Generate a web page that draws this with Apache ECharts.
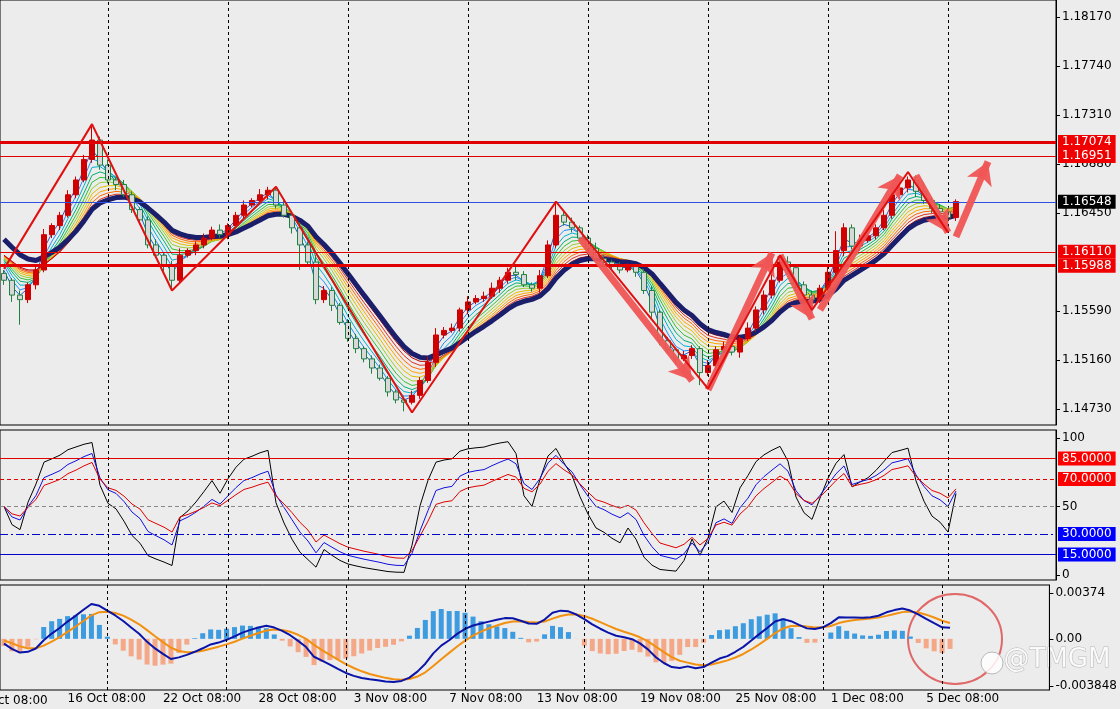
<!DOCTYPE html>
<html><head><meta charset="utf-8">
<script src="https://cdn.jsdelivr.net/npm/echarts@6/dist/echarts.min.js"></script>
<style>html,body{margin:0;padding:0;background:#ececec}#c{width:1120px;height:709px}</style>
</head><body><div id="c"></div>
<script>
const closes=[1.1586,1.1573,1.1569,1.1582,1.1595,1.1626,1.1634,1.1643,1.1661,1.1674,1.1692,1.1709,1.1687,1.1674,1.1670,1.1661,1.1648,1.1639,1.1617,1.1608,1.1599,1.1586,1.1608,1.1612,1.1617,1.1623,1.1630,1.1626,1.1634,1.1643,1.1652,1.1656,1.1661,1.1665,1.1652,1.1643,1.1632,1.1617,1.1602,1.1569,1.1577,1.1564,1.1549,1.1535,1.1526,1.1517,1.1509,1.1500,1.1488,1.1481,1.1479,1.1485,1.1498,1.1514,1.1538,1.1542,1.1544,1.1560,1.1567,1.1570,1.1572,1.1579,1.1586,1.1593,1.1591,1.1582,1.1579,1.1590,1.1617,1.1643,1.1637,1.1632,1.1623,1.1614,1.1605,1.1602,1.1598,1.1595,1.1598,1.1593,1.1577,1.1558,1.1533,1.1525,1.1517,1.1520,1.1526,1.1505,1.1511,1.1525,1.1528,1.1523,1.1535,1.1544,1.1560,1.1573,1.1586,1.1602,1.1597,1.1582,1.1573,1.1569,1.1579,1.1593,1.1612,1.1632,1.1616,1.1621,1.1625,1.1632,1.1643,1.1661,1.1667,1.1674,1.1664,1.1656,1.1649,1.1646,1.1641,1.1655];
const firstOpen=1.1592;
const wickUp=[3,2,4,2,3,5,2,3,4,3,4,13,3,5,2,4,3,2,3,5,2,4,6,2,3,4,3,5,2,3,4,2,5,3,2,4,3,5,3,6,4,3,2,3,4,2,3,3,2,2,3,4,3,5,6,3,4,2,5,3,4,5,3,4,6,3,2,5,4,11,3,4,2,3,5,3,2,4,3,2,3,4,2,3,2,4,3,2,5,3,4,3,2,5,3,4,6,3,5,2,3,4,3,5,17,4,3,5,2,3,5,6,7,3,4,8,3,4,3,2];
const wickDn=[4,6,22,3,4,2,3,4,2,3,2,3,4,3,5,2,3,4,3,2,5,9,3,2,4,3,2,3,4,2,3,2,3,4,3,2,5,22,3,4,3,5,2,3,4,3,5,2,4,3,8,2,3,2,4,3,2,3,4,2,3,2,4,3,5,2,3,4,2,3,3,4,2,5,3,2,4,3,2,4,3,5,4,3,5,2,3,11,3,4,2,3,5,2,3,4,3,2,5,4,3,6,3,2,3,5,3,4,2,3,2,3,3,4,5,3,4,3,6,3];
const tickDates=[[8,'16 Oct 08:00'],[20,'22 Oct 08:00'],[32,'28 Oct 08:00'],[44,'3 Nov 08:00'],[56,'7 Nov 08:00'],[67,'13 Nov 08:00'],[80,'19 Nov 08:00'],[92,'25 Nov 08:00'],[104,'1 Dec 08:00'],[116,'5 Dec 08:00']];
const vLines=[13,28,43,58,73,88,103,118];
const priceShownTicks=[1.14730,1.15160,1.15590,1.16450,1.16880,1.17310,1.17740,1.18170];
const levels=[[1.17074,3,'#e00000'],[1.16951,1,'#e00000'],[1.16110,1,'#e00000'],[1.15988,3,'#e00000']];
const current=1.16548;
const zigzag=[[0,1.1596],[11,1.1723],[21,1.1577],[34,1.1668],[51,1.1470],[69,1.1655],[88,1.1491],[97,1.1608],[101,1.1560],[113,1.1681],[118,1.1628]];
const arrows=[[[72,1.1623],[86,1.1498]],[[88,1.1490],[96,1.1610]],[[97,1.1608],[101,1.1552]],[[102,1.1560],[112,1.1678]],[[114,1.1678],[118,1.1628]],[[119,1.1624],[123,1.1690]]];
const ribbonPeriods=[2,3,4,5,6,7,8,9,10,11,12];
const ribbonColors=['#1f5fd0','#1e90ff','#00b0d0','#00b070','#30c030','#9acd32','#e0c000','#ffa500','#ff6a00','#e03020','#c00000'];
const thickPeriod=13;
const rsiLevels=[[85,'#e00000','solid','#ff0000'],[70,'#e00000','dashed','#ff0000'],[50,'#888','dashed',null],[30,'#0000cc','dashdot','#0000ff'],[15,'#0000cc','solid','#0000ff']];
const macdTicks=[-0.003848,0,0.00374];

const N=132;
const cats=[];for(let i=0;i<N;i++)cats.push('');
tickDates.forEach(([i,t])=>cats[i]=t);
const ohlc=closes.map((c,i)=>{const o=i?closes[i-1]:firstOpen;const hi=Math.max(o,c)+(wickUp[i]||3)*0.0001;const lo=Math.min(o,c)-(wickDn[i]||3)*0.0001;return [o,c,lo,hi];});
function ema(arr,p,seed){const k=2/(p+1);let e=seed??arr[0];return arr.map(v=>{e=v*k+e*(1-k);return +e.toFixed(6);});}
function rsi(arr,p){let ag=0.0006,al=0.0006;return arr.map((v,i)=>{if(i===0)return 50;const d=v-arr[i-1];ag=(ag*(p-1)+Math.max(d,0))/p;al=(al*(p-1)+Math.max(-d,0))/p;return +(100*ag/(ag+al)).toFixed(2);});}
const seed=1.1612;
const eF=ema(closes,6,seed),eS=ema(closes,14,seed);
const macd=closes.map((c,i)=>+(eF[i]-eS[i]).toFixed(6));
const sig=ema(macd,5,0);
const hist=macd.map((m,i)=>+((m-sig[i])*2.2).toFixed(6));

const vLineData=vLines.map(v=>({xAxis:v,lineStyle:{color:'#000',type:[3,3],width:1},label:{show:false}}));
const lab=(txt,bg)=>({show:true,position:'end',formatter:txt,color:'#fff',backgroundColor:bg,padding:[1,4],fontSize:12,fontFamily:'DejaVu Sans',distance:2});
const series=[];
ribbonPeriods.forEach((p,k)=>series.push({type:'line',xAxisIndex:0,yAxisIndex:0,data:ema(closes,p,seed),symbol:'none',lineStyle:{width:1,color:ribbonColors[k]},z:2}));
series.push({type:'line',data:ema(closes,thickPeriod,1.1628),symbol:'none',lineStyle:{width:5,color:'#1b1f6b'},z:3,
 markLine:{silent:true,symbol:'none',precision:6,data:[
  ...vLineData,
  ...levels.map(([v,w,c])=>({yAxis:v,lineStyle:{color:c,width:w,type:'solid'},label:lab(v.toFixed(5),'#f00000')})),
  {yAxis:current,lineStyle:{color:'#3050e0',width:1,type:'solid'},label:lab(current.toFixed(5),'#000')}
 ]}});
series.push({type:'candlestick',data:ohlc,barWidth:5,z:4,itemStyle:{color:'#d00000',color0:'#d8d8d8',borderColor:'#d00000',borderColor0:'#208040',borderWidth:1}});
series.push({type:'line',data:zigzag,symbol:'none',lineStyle:{color:'#e01010',width:2},z:5});
series.push({type:'line',data:zigzag,symbol:'none',lineStyle:{opacity:0},z:6,markLine:{silent:true,precision:6,symbol:['none','arrow'],symbolSize:[20,22],lineStyle:{color:'#f05555',width:7,type:'solid',opacity:0.95},label:{show:false},data:arrows.map(([a,b])=>[{coord:a},{coord:b}])}});
const rsiCols=[['#000',4],['#1010e0',7],['#e00000',10]];
rsiCols.forEach(([c,p],k)=>series.push({type:'line',xAxisIndex:1,yAxisIndex:1,data:rsi(closes,p),symbol:'none',lineStyle:{width:1,color:c},
 markLine:k===0?{silent:true,symbol:'none',data:[...vLineData,
  ...rsiLevels.map(([v,c2,t,bg])=>({yAxis:v,lineStyle:{color:c2,width:1,type:t==='dashed'?[4,3]:(t==='dashdot'?[8,3,2,3]:'solid')},label:bg?lab(v.toFixed(4),bg):{show:false}}))]}:undefined}));
series.push({type:'bar',xAxisIndex:2,yAxisIndex:2,data:hist.map(v=>({value:v,itemStyle:{color:v>=0?'#3d9be0':'#f4a887'}})),barWidth:5,
 markLine:{silent:true,symbol:'none',data:vLineData}});
series.push({type:'line',xAxisIndex:2,yAxisIndex:2,data:sig,symbol:'none',lineStyle:{width:2,color:'#f29010'}});
series.push({type:'line',xAxisIndex:2,yAxisIndex:2,data:macd,symbol:'none',lineStyle:{width:2,color:'#0a14a8'}});

const font={fontFamily:'DejaVu Sans',fontSize:12,color:'#000'};
const gridBase={left:0,right:64,show:true,borderColor:'#000',borderWidth:1,backgroundColor:'#ececec'};
const xa=(g,l)=>({type:'category',gridIndex:g,data:cats,boundaryGap:true,axisLine:{show:false},axisTick:{show:false},splitLine:{show:false},
 axisLabel:l?{show:true,interval:0,align:'left',margin:3,...font}:{show:false}});
const ya=(g,min,max,vals,fmt)=>({type:'value',gridIndex:g,position:'right',min,max,splitLine:{show:false},axisLine:{show:true,lineStyle:{color:'#000'}},
 axisTick:{show:true,customValues:vals,length:4,lineStyle:{color:'#000'}},axisLabel:{show:true,customValues:vals,formatter:fmt,margin:6,...font}});
const chart=echarts.init(document.getElementById('c'));
chart.setOption({animation:false,backgroundColor:'#ececec',
 grid:[{...gridBase,top:0,height:425},{...gridBase,top:430,height:150},{...gridBase,top:585,height:105}],
 xAxis:[xa(0,false),xa(1,false),xa(2,true)],
 yAxis:[ya(0,1.14590,1.18319,priceShownTicks,v=>v.toFixed(5)),ya(1,-3.65,105.84,[0,50,100],v=>String(v)),ya(2,-0.004174,0.004393,macdTicks,v=>v===0?'0.00':String(v))],
 series,
 graphic:[
  {type:'text',left:-2,top:695,style:{text:'ct 08:00',font:'12px DejaVu Sans',fill:'#000'}},
  {type:'ellipse',shape:{cx:955,cy:639,rx:47,ry:45},style:{fill:'none',stroke:'#e06868',lineWidth:2}},
  {type:'text',left:1003,top:647,style:{text:'@TMGM',font:'26px DejaVu Sans',fill:'rgba(255,255,255,0.85)',stroke:'#b8b8b8',lineWidth:1}},
  {type:'circle',shape:{cx:992,cy:663,r:11},style:{fill:'rgba(255,255,255,0.85)',stroke:'#b8b8b8'}}
 ]});
</script></body></html>
